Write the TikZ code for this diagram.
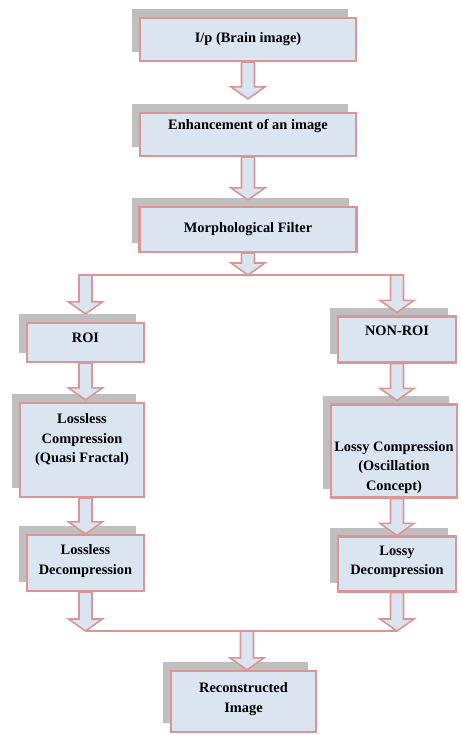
\documentclass[tikz,border=0pt]{standalone}
\usepackage{fontspec}
\setmainfont{Liberation Serif}
\usetikzlibrary{calc, shadows}
\definecolor{boxfill}{HTML}{DBE5F1}
\definecolor{boxline}{HTML}{D99694}
\definecolor{shade}{HTML}{BFBFBF}
\tikzstyle{box} = [rectangle, draw=boxline, line width=2.2pt, fill=boxfill,
drop shadow={shadow xshift=-8pt, shadow yshift=9pt, fill=shade, opacity=1}]
\tikzstyle{txt} = [align=center, text=black,
font=\fontsize{14.4}{19.5}\selectfont\bfseries]
\tikzstyle{arrow} = [draw=boxline, line width=1.6pt, fill=boxfill]
\tikzstyle{bar} = [draw=boxline, line width=2.6pt]
% block arrow pointing down, from #1 to the height of #2
\newcommand{\blockarrow}[2]{\draw[arrow] let \p1=#1, \p2=#2 in
(\x1-6.5pt,\y1) -- (\x1-6.5pt,\y2+12pt) -- (\x1-17pt,\y2+12pt) -- (\x1,\y2) --
(\x1+17pt,\y2+12pt) -- (\x1+6.5pt,\y2+12pt) -- (\x1+6.5pt,\y1) -- cycle;}

\begin{document}
\begin{tikzpicture}[x=1pt, y=-1pt, node distance=95pt]
\useasboundingbox (0,0) rectangle (460,735);

\node(in)[box, minimum width=216pt, minimum height=43pt,
label={[txt]center:I/p (Brain image)}] at (248,39.5) {};
\node(enh)[box, below of=in, minimum width=216pt, minimum height=43pt,
label={[txt, yshift=8pt]center:Enhancement of an image}] {};
\node(morph)[box, below of=enh, minimum width=217pt, minimum height=45pt,
label={[txt]center:Morphological Filter}] {};
\node(roi)[box, below of=morph, xshift=-162.5pt, yshift=-18pt, minimum width=117pt,
minimum height=39pt, label={[txt, yshift=5pt]center:ROI}] {};
\node(nonroi)[box, below of=morph, xshift=149pt, yshift=-15pt, minimum width=118pt,
minimum height=46pt, label={[txt, yshift=9pt]center:NON-ROI}] {};
\node(lc)[box, below of=roi, xshift=-3.5pt, yshift=-12.5pt, minimum width=124pt,
minimum height=94pt, label={[txt, yshift=10pt]center:Lossless\\Compression\\(Quasi Fractal)}] {};
\node(lyc)[box, below of=nonroi, xshift=-3pt, yshift=-16.5pt, minimum width=126pt,
minimum height=93pt, label={[txt, yshift=-16.5pt]center:Lossy Compression\\(Oscillation\\Concept)}] {};
\node(ld)[box, below of=lc, xshift=3.5pt, yshift=-18pt, minimum width=117pt,
minimum height=56pt, label={[txt, yshift=2pt]center:Lossless\\Decompression}] {};
\node(lyd)[box, below of=lyc, xshift=3pt, yshift=-18pt, minimum width=118pt,
minimum height=55pt, label={[txt, yshift=2pt]center:Lossy\\Decompression}] {};
\node(rec)[box, below of=ld, xshift=158pt, yshift=-43.5pt, minimum width=145pt,
minimum height=61pt, label={[txt, yshift=2.5pt]center:Reconstructed\\Image}] {};

\coordinate(split) at (245,275);
\coordinate(merge) at (247,631);

\blockarrow{(in.south)}{([yshift=13pt]enh.north)}
\blockarrow{(enh.south)}{([yshift=6pt]morph.north)}
\draw[bar]([xshift=-6.5pt]roi.north |- split) -- ([xshift=6.5pt]nonroi.north |- split);
\blockarrow{(morph.south)}{(split)}
\blockarrow{(roi.north |- split)}{([yshift=8pt]roi.north)}
\blockarrow{(nonroi.north |- split)}{([yshift=3pt]nonroi.north)}
\blockarrow{(roi.south)}{([yshift=2pt]lc.north)}
\blockarrow{(nonroi.south)}{([yshift=3pt]lyc.north)}
\blockarrow{(lc.south -| ld.north)}{(ld.north)}
\blockarrow{(lyc.south -| lyd.north)}{(lyd.north)}
\draw[bar](ld.south |- merge) -- (lyd.south |- merge);
\blockarrow{(ld.south)}{(merge)}
\blockarrow{(lyd.south)}{(merge)}
\blockarrow{(merge)}{(rec.north)}

\end{tikzpicture}
\end{document}
